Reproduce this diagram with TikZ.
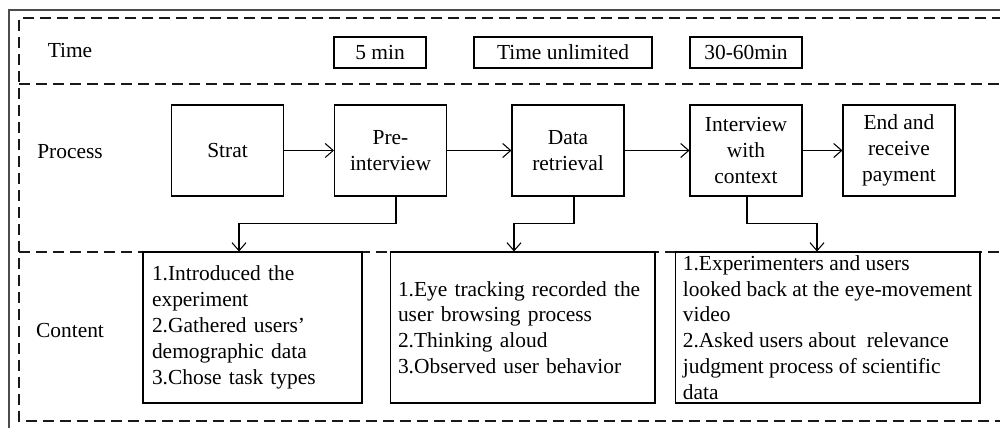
\documentclass[tikz,border=0pt]{standalone}
\usepackage{fontspec}
\setmainfont{Liberation Serif}
\usetikzlibrary{arrows.meta}

\begin{document}
\begin{tikzpicture}[x=0.02cm, y=-0.02cm,
  txt/.style={font=\fontsize{12.2}{14.7}\selectfont},
  timebox/.style={txt, draw, fill=white, line width=0.6pt, minimum height=0.62cm, inner sep=0pt},
  stepbox/.style={txt, draw, fill=white, line width=0.6pt, align=center, minimum width=2.24cm, minimum height=1.82cm, inner sep=0pt},
  infobox/.style={txt, draw, fill=white, line width=0.6pt, align=left, minimum height=3.02cm, inner ysep=0pt},
  region/.style={line width=0.6pt, dash pattern=on 0.22cm off 0.12cm, gray!20!black},
  flow/.style={line width=0.6pt, -{Straight Barb[length=0.16cm, width=0.28cm]}}]

\useasboundingbox (0,0) rectangle (1000,427);
\clip (0,0) rectangle (1000,427);

% outer frame and dashed rows
\draw[line width=0.8pt, gray!60!black] (9,10) rectangle (1020,440);
\draw[region] (1020,18) -- (19,18) -- (19,421) -- (1020,421);
\draw[region] (19,84) -- (1020,84);
\draw[region] (19,252) -- (1020,252);

% row titles
\node[txt] (time) at (70,51) {Time};
\node[txt] (process) at (70,152) {Process};
\node[txt] (content) at (70,330) {Content};

% time boxes
\node[timebox, minimum width=1.84cm] (t1) at (380,52.5) {5 min};
\node[timebox, minimum width=3.56cm] (t2) at (563,52.5) {Time unlimited};
\node[timebox, minimum width=2.24cm] (t3) at (746,52.5) {30-60min};

% process steps
\node[stepbox] (start) at (227.5,150.5) {Strat};
\node[stepbox] (pre) at (390.5,150.5) {Pre-\\interview};
\node[stepbox] (data) at (568,150.5) {Data\\retrieval};
\node[stepbox] (inter) at (746,150.5) {Interview\\with\\context};
\node[stepbox] (final) at (899,150.5) {End and\\receive\\payment};

% arrows between steps
\draw[flow] (start) -- (pre);
\draw[flow] (pre) -- (data);
\draw[flow] (data) -- (inter);
\draw[flow] (inter) -- (final);

% content boxes
\node[infobox, inner xsep=0.18cm, text width=4.02cm] (c1) at (252.5,327.5) {1.Introduced the\\experiment\\2.Gathered users’\\demographic data\\3.Chose task types};
\node[infobox, inner xsep=0.16cm, text width=4.98cm] (c2) at (522.5,327.5) {1.Eye tracking recorded the\\user browsing process\\2.Thinking aloud\\3.Observed user behavior};
\node[infobox, inner xsep=0pt, minimum width=6.1cm] (c3) at (827.5,327.5) {1.Experimenters and users\\looked back at the eye-movement\\video\\2.Asked users about\ \ relevance\\judgment process of scientific\\data};

% arrows down to the content boxes
\draw[flow] ([xshift=0.11cm]pre.south) -- ++(0,27) -| ([xshift=-0.27cm]c1.north);
\draw[flow] ([xshift=0.12cm]data.south) -- ++(0,27) -| ([xshift=-0.17cm]c2.north);
\draw[flow] ([xshift=0.02cm]inter.south) -- ++(0,27) -| ([xshift=-0.21cm]c3.north);
\end{tikzpicture}
\end{document}
